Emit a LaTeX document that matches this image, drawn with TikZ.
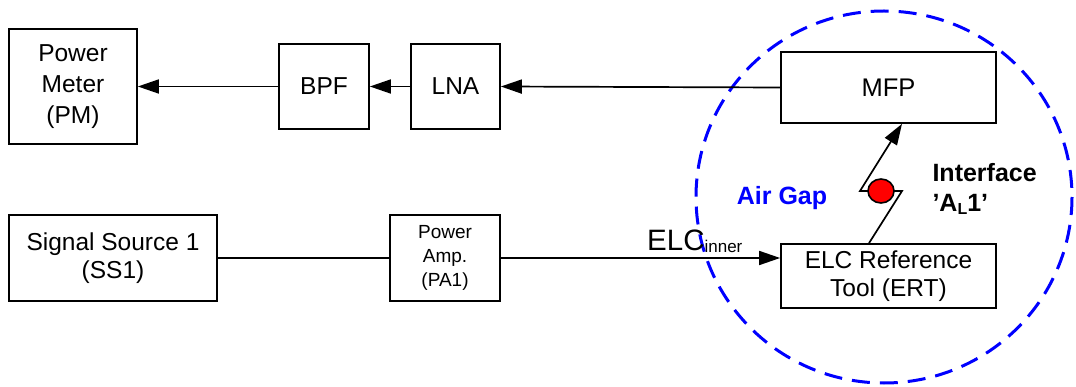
\documentclass[tikz,border=0pt]{standalone}
\usepackage{fontspec}
\setmainfont{Liberation Sans}
\usetikzlibrary{arrows.meta,shapes.geometric}
\tikzset{
  blk/.style={draw, line width=1.7pt, inner sep=0pt, align=center},
  conn/.style={line width=1.7pt},
  arr/.style={conn, -{Triangle[length=21pt,width=14pt]}},
  fnorm/.style={font=\fontsize{24.5}{28}\selectfont},
}
\begin{document}
\begin{tikzpicture}[x=1pt,y=-1pt]
\useasboundingbox (0,0) rectangle (1076,387);
% air gap circle
\draw[blue, line width=3pt, dash pattern=on 18pt off 10pt] (884,197) ellipse [x radius=188, y radius=186];
% nodes
\node[blk, minimum width=128pt, minimum height=115pt, font=\fontsize{24.5}{31}\selectfont] (pm) at (73,86.5) {Power\\Meter\\(PM)};
\node[blk, fnorm, minimum width=90pt, minimum height=85pt] (bpf) at (324,86.5) {BPF};
\node[blk, fnorm, minimum width=89pt, minimum height=85pt] (lna) at (455.5,86.5) {LNA};
\node[blk, font=\fontsize{25.5}{28}\selectfont, minimum width=215pt, minimum height=71pt] (mfp) at (888.5,87.5) {MFP};
\node[blk, fnorm, minimum width=208pt, minimum height=86pt] (ss) at (113,258) {Signal Source 1\\(SS1)};
\node[blk, font=\fontsize{19}{24}\selectfont, minimum width=110pt, minimum height=86pt] (pa) at (445,258) {Power\\Amp.\\(PA1)};
\node[blk, fnorm, minimum width=215pt, minimum height=64pt] (ert) at (888.5,276) {ELC Reference\\Tool (ERT)};
% connectors
\draw[arr] (lna.west) -- (bpf.east);
\draw[arr] (bpf.west) -- (pm.east);
\draw[arr] (mfp.west) -- (lna.east);
\draw[conn] (ss.east) -- (pa.west);
\coordinate (ertin) at (pa.east -| ert.west);
\draw[arr] (pa.east) -- (ertin);
% zigzag interface link
\coordinate (zs) at ([xshift=-19.5pt]ert.north);
\coordinate (za) at (902,191);
\coordinate (zb) at (860,191);
\coordinate (ze) at ([xshift=13.5pt]mfp.south);
\draw[arr] (zs) -- (za) -- (zb) -- (ze);
\node[draw=black, fill=red, line width=1.6pt, ellipse, minimum width=26pt, minimum height=24pt, inner sep=0pt] (dot) at (881,191) {};
% labels
\node[text=blue, font=\bfseries\fontsize{25}{28}\selectfont] (air) at (782,198) {Air Gap};
\node[anchor=west, align=left, font=\bfseries\fontsize{25}{30}\selectfont] (intf) at (929,189) {Interface\\'A\raisebox{-3pt}{\fontsize{16}{16}\selectfont L}1'};
\node[anchor=base west, inner sep=0pt] (elc) at (647,251) {\fontsize{29.5}{29.5}\selectfont ELC\raisebox{-2pt}{\fontsize{17}{17}\selectfont inner}};
\end{tikzpicture}
\end{document}
